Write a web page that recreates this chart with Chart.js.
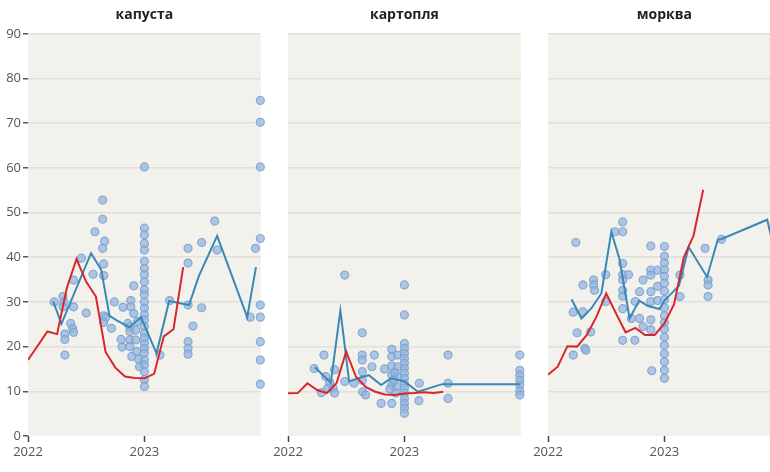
<!DOCTYPE html>
<html>
<head>
<meta charset="utf-8">
<script src="https://cdn.jsdelivr.net/npm/chart.js@4.4.1/dist/chart.umd.min.js"></script>
<style>
  html, body { margin: 0; padding: 0; background: #fff; overflow: hidden; }
  #wrap { position: relative; width: 770px; height: 472px; overflow: hidden; }
  .panel { position: absolute; top: 0; height: 472px; }
</style>
</head>
<body>
<div id="wrap">
  <div class="panel" style="left:0;width:266px"><canvas id="c1"></canvas></div>
  <div class="panel" style="left:268px;width:258px"><canvas id="c2"></canvas></div>
  <div class="panel" style="left:528px;width:258px"><canvas id="c3"></canvas></div>
</div>
<script>
// x is months counted from Jan 2022
const xTickValues = [0, 12];
const xTickLabels = ['2022', '2023'];
const yTicks = [0, 10, 20, 30, 40, 50, 60, 70, 80, 90];
const titles = ['капуста', 'картопля', 'морква'];

// капуста
const kapustaPoints = [
  [2.7,30.0],[3.6,31.2],[3.7,30.0],[3.6,28.9],[3.8,22.8],[3.8,21.6],[3.8,18.1],[4.7,34.9],[4.7,28.9],[4.4,25.2],
  [4.6,24.1],[4.7,23.2],[5.5,39.8],[6.0,27.5],[6.7,36.2],[6.9,45.7],[7.7,52.8],[7.7,48.5],[7.9,43.6],[7.7,42.0],
  [7.8,38.5],[7.8,35.9],[7.8,26.9],[8.0,26.5],[7.8,25.4],[8.6,24.1],[8.9,30.0],[9.6,21.6],[9.7,19.9],[9.8,28.8],
  [10.3,25.2],[10.5,24.4],[10.6,30.3],[10.6,28.9],[10.9,33.6],[10.9,27.4],[10.5,23.4],[10.5,21.5],[10.5,20.0],
  [10.7,17.8],[11.1,23.7],[11.1,21.5],[11.2,18.9],[11.4,17.2],[11.5,15.5],[11.3,25.6],
  [12,60.2],[12,46.5],[12,45.0],[12,43.1],[12,41.6],[12,39.1],[12,37.5],[12,36.1],[12,34.5],[12,32.7],[12,31.6],
  [12,30.0],[12,28.6],[12,27.1],[12,26.0],[12,24.5],[12,23.0],[12,21.9],[12,20.7],[12,19.6],[12,18.5],[12,17.0],
  [12,15.9],[12,14.4],[12,12.6],[12,11.1],
  [13.6,18.1],[14.6,30.3],[16.5,42.0],[16.5,38.7],[16.5,29.3],[17.0,24.6],[16.5,21.1],[16.5,19.6],[16.5,18.3],
  [17.9,43.3],[17.9,28.7],[19.25,48.1],[19.5,41.6],[22.9,26.6],[23.45,42.0],[23.95,44.2],[23.95,75.1],[23.95,70.2],
  [23.95,60.2],[23.95,29.3],[23.95,26.6],[23.95,21.1],[23.95,17.0],[23.95,11.6]
];
const kapustaMedian = [
  [2.6,30.1],[3.45,25.1],[6.5,40.9],[7.55,37.2],[8.4,26.9],[9.2,25.8],[10.45,24.3],[11.65,26.6],[13.25,18.5],
  [14.55,30.2],[16.6,29.3],[17.6,35.7],[19.5,44.8],[22.6,26.6],[23.5,37.8]
];
const kapustaTrend = [
  [0,17.0],[1,20.2],[2,23.4],[3,22.8],[4,33.1],[5,39.6],[6,34.5],[7,31.2],[8,18.8],[9,15.3],[10,13.3],
  [11,13.0],[12,12.9],[13,13.9],[14,22.3],[15,23.9],[16,37.8]
];

// картопля
const kartoplyaPoints = [
  [2.7,15.1],[3.7,18.1],[3.9,13.3],[3.45,9.7],[4.1,10.7],[4.8,14.8],[4.65,10.7],[4.8,9.6],[4.3,12.0],[5.85,36.0],
  [5.85,12.2],[6.8,11.8],[7.66,23.1],[7.66,18.1],[7.66,17.0],[7.66,14.4],[7.66,12.5],[7.7,9.9],[8.0,9.2],[8.65,15.5],
  [8.9,18.1],[9.6,7.3],[9.95,15.0],[10.7,19.4],[10.7,17.8],[10.7,15.7],[10.7,13.7],[10.7,11.4],[10.7,7.3],
  [11.3,18.1],[11.3,15.5],[11.3,13.3],[11.2,11.1],[11.1,9.6],[11.0,14.2],[10.9,12.5],[10.5,10.5],
  [12,33.8],[12,27.1],[12,20.7],[12,19.6],[12,18.5],[12,17.4],[12,16.3],[12,15.2],[12,14.1],[12,12.9],[12,11.8],
  [12,10.7],[12,9.6],[12,8.4],[12,7.3],[12,6.2],[12,5.1],
  [13.54,11.8],[13.5,7.9],[16.5,18.1],[16.5,11.8],[16.5,8.4],[23.9,18.1],[23.9,14.7],[23.9,13.6],[23.9,12.5],
  [23.9,11.4],[23.9,10.1],[23.9,9.2]
];
const kartoplyaMedian = [
  [2.77,15.4],[4.41,11.9],[5.4,28.1],[6.3,12.2],[7.2,12.9],[8.34,13.6],[9.6,11.4],[10.6,12.9],[12.0,12.2],
  [13.4,9.9],[15.9,11.6],[23.97,11.6]
];
const kartoplyaTrend = [
  [0,9.55],[1,9.6],[2,11.8],[3,10.3],[4,9.6],[5,11.8],[6,18.9],[7,13.3],[8,11.0],[9,9.9],[10,9.3],[11,9.2],
  [12,9.5],[13,9.6],[14,9.8],[15,9.6],[16,9.9]
];

// морква
const morkvaPoints = [
  [2.87,43.3],[2.6,27.7],[2.6,18.1],[3.0,23.1],[3.6,33.8],[3.6,27.8],[3.8,19.6],[3.9,19.2],[4.4,23.3],[4.7,34.9],
  [4.7,33.8],[4.8,32.6],[5.95,36.1],[5.95,30.1],[6.9,45.7],[7.7,45.7],[7.7,47.9],[7.7,38.6],[7.7,36.1],[7.7,34.9],
  [7.7,32.6],[7.7,31.3],[7.7,28.5],[7.7,21.4],[8.3,36.1],[8.95,21.4],[8.6,26.3],[9.0,30.1],[9.44,32.3],[9.44,26.3],
  [9.8,24.5],[9.8,34.9],[10.6,42.5],[10.6,37.1],[10.6,36.0],[10.6,32.3],[10.6,30.1],[10.6,26.0],[10.6,23.8],
  [10.7,14.6],[11.3,37.1],[11.3,30.3],[11.3,33.5],
  [12,42.4],[12,40.2],[12,38.7],[12,37.2],[12,35.7],[12,34.2],[12,32.4],[12,30.5],[12,28.7],[12,26.9],[12,25.4],
  [12,23.9],[12,22.1],[12,20.3],[12,18.4],[12,16.6],[12,14.7],[12,12.9],
  [13.6,36.0],[13.6,31.2],[16.2,42.0],[16.5,34.9],[16.5,33.8],[16.5,31.2],[17.9,44.0]
];
const morkvaMedian = [
  [2.43,30.6],[3.45,26.3],[4.48,28.6],[5.5,31.9],[6.53,45.7],[7.38,39.5],[8.41,26.3],[9.4,30.3],[10.3,29.1],
  [11.5,28.4],[12.0,30.3],[13.5,33.6],[14.5,42.3],[16.4,35.6],[17.5,43.9],[17.9,44.1],[22.6,48.4],[23.5,40.0]
];
const morkvaTrend = [
  [0,13.7],[1,15.5],[2,20.1],[3,20.0],[4,22.6],[5,26.7],[6,31.9],[7,27.5],[8,23.2],[9,24.2],[10,22.6],
  [11,22.6],[12,25.2],[13,29.5],[14,40.0],[15,44.8],[16,55.1]
];

const toXY = arr => arr.map(([x, y]) => ({ x, y }));

// plot background
const bgPlugin = {
  id: 'plotBg',
  beforeDraw(chart) {
    const a = chart.chartArea;
    const ctx = chart.ctx;
    ctx.save();
    ctx.fillStyle = '#f3f1ec';
    ctx.fillRect(a.left, a.top, a.right - a.left, a.bottom - a.top);
    ctx.restore();
  }
};

function makePanel(id, title, points, median, trend, first) {
  return new Chart(document.getElementById(id), {
    type: 'scatter',
    data: {
      datasets: [
        {
          type: 'line', data: toXY(trend), borderColor: '#d8262d', borderWidth: 2,
          pointRadius: 0, fill: false, tension: 0, order: 0
        },
        {
          type: 'line', data: toXY(median), borderColor: '#3a88b6', borderWidth: 2,
          pointRadius: 0, fill: false, tension: 0, order: 1
        },
        {
          data: toXY(points), backgroundColor: 'rgba(145,180,222,0.72)', borderColor: 'rgba(120,160,208,0.85)',
          borderWidth: 1.2, pointRadius: 4, order: 2, clip: false
        }
      ]
    },
    options: {
      responsive: true,
      maintainAspectRatio: false,
      animation: false,
      events: [],
      layout: { padding: { left: first ? 0 : 20, right: 4, top: 0, bottom: 0 } },
      plugins: {
        legend: { display: false },
        tooltip: { enabled: false },
        title: {
          display: true, text: title, fullSize: false, color: '#222',
          font: { family: 'Open Sans', size: 14, weight: 'bold' },
          padding: { top: 7, bottom: 10 }
        }
      },
      scales: {
        x: {
          type: 'linear', min: 0, max: 24,
          afterBuildTicks: axis => { axis.ticks = xTickValues.map(v => ({ value: v })); },
          afterFit: s => { s.height = 36; },
          ticks: {
            autoSkip: false, maxRotation: 0, padding: 2, color: '#555',
            font: { family: 'Open Sans', size: 13 },
            callback: v => xTickLabels[xTickValues.indexOf(v)]
          },
          grid: { drawOnChartArea: false, tickLength: 6, tickColor: '#444', tickWidth: 1.5 },
          border: { display: false }
        },
        y: {
          min: 0, max: 90,
          afterBuildTicks: axis => { axis.ticks = yTicks.map(v => ({ value: v })); },
          afterFit: s => { s.width = first ? 28 : 0; },
          ticks: {
            display: first, padding: 2, color: '#555',
            font: { family: 'Open Sans', size: 13 }
          },
          grid: {
            color: ctx => ctx.tick && ctx.tick.value === 0 ? 'rgba(0,0,0,0)' : '#e2dfd9',
            lineWidth: 1.5, drawTicks: first, tickLength: 5, tickColor: '#555', tickWidth: 1.5
          },
          border: { display: false }
        }
      }
    },
    plugins: [bgPlugin]
  });
}

// Charts
makePanel('c1', titles[0], kapustaPoints, kapustaMedian, kapustaTrend, true);
makePanel('c2', titles[1], kartoplyaPoints, kartoplyaMedian, kartoplyaTrend, false);
makePanel('c3', titles[2], morkvaPoints, morkvaMedian, morkvaTrend, false);
</script>
</body>
</html>
